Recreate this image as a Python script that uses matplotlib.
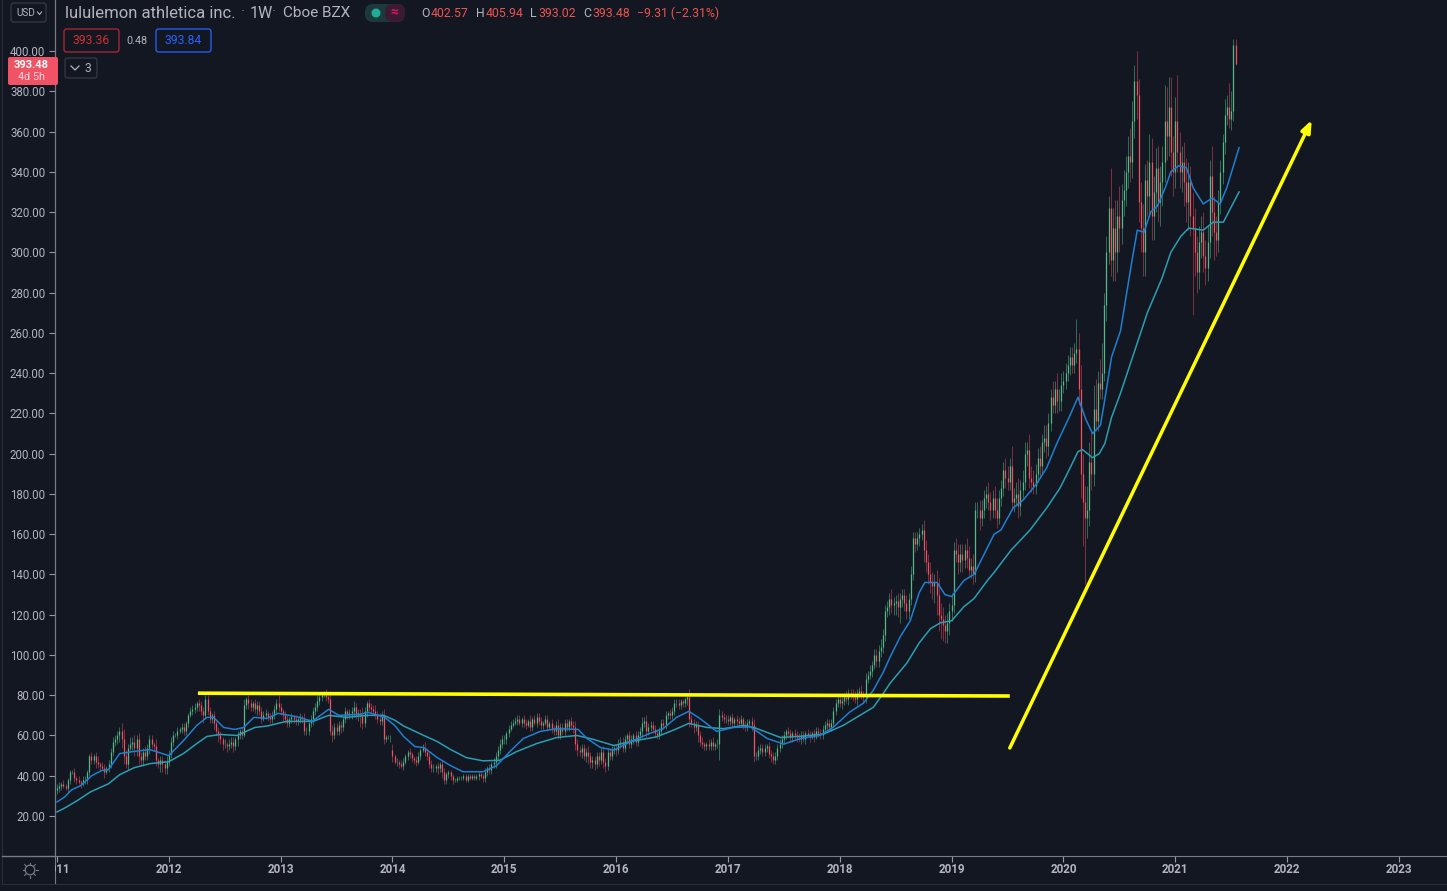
import matplotlib
matplotlib.use("Agg")
import matplotlib.pyplot as plt
import numpy as np
from matplotlib.patches import FancyBboxPatch, Circle

plt.rcParams["font.family"] = ["Roboto", "DejaVu Sans"]

BG = "#131722"
TXT = "#b2b5be"
UP, UP_WICK = "#53b987", "#33735c"
DOWN, DOWN_WICK = "#f0525f", "#8a3145"
BLUE, TEAL = "#1f7fd0", "#2a9fb2"
YELLOW = "#ffff00"

# weekly closes, one list per year
close_2011 = [34,35,36,35,34,38,42,42,39,38,37,36,38,
              38,42,50,48,50,47,46,45,44,42,44,46,52,
              57,58,60,62,58,50,46,54,56,57,54,58,50,
              48,52,50,54,58,56,55,48,46,48,46,44,47]
close_2012 = [51,57,60,60,62,63,64,62,66,70,72,73,74,
              76,75,72,70,78,72,68,70,66,62,60,58,56,
              56,55,56,57,55,58,60,62,60,75,78,76,74,
              76,73,75,72,68,70,71,69,68,70,73,76,74]
close_2013 = [72,70,68,66,68,69,68,67,68,69,68,62,62,
              66,68,72,74,77,79,80,80,79,78,62,60,64,
              62,65,64,68,72,70,71,72,74,70,71,70,66,
              72,76,74,73,72,70,68,67,70,58,59,59,59]
close_2014 = [50,47,47,46,45,47,50,52,51,49,48,47,50,
              53,54,52,50,46,44,44,45,44,46,42,38,41,
              42,40,38,38,39,39,39,40,38,40,39,40,39,
              40,41,40,39,42,44,43,46,47,50,53,56,58]
close_2015 = [58,61,63,65,66,67,68,66,68,66,65,67,64,
              68,66,69,67,65,66,68,64,66,63,62,65,60,
              64,62,66,64,67,65,64,56,53,52,54,50,52,
              50,47,48,46,50,48,52,47,45,52,50,53,54]
close_2016 = [53,56,57,54,58,60,56,58,60,57,60,62,66,
              67,62,64,65,63,61,60,62,66,65,70,71,70,
              72,76,76,75,77,76,78,79,68,66,64,65,60,
              57,56,55,56,55,57,55,56,56,70,69,68,68]
close_2017 = [67,69,66,68,67,66,68,65,64,66,67,65,50,
              50,53,54,52,54,55,51,50,48,50,54,56,58,
              60,62,61,59,61,60,59,58,60,58,61,60,59,
              61,59,62,61,60,63,65,66,64,66,72,76,78]
close_2018 = [76,77,79,78,81,80,79,78,81,82,80,79,88,
              90,92,95,100,97,102,104,110,122,124,128,125,126,
              127,124,128,130,126,122,128,140,158,155,158,160,162,
              152,146,140,136,134,136,130,120,118,115,112,116,122]
close_2019 = [125,152,150,146,150,147,152,148,142,144,140,172,172,
              168,172,178,180,176,172,178,172,168,178,183,192,188,
              186,194,176,178,180,174,182,186,200,202,188,186,184,
              190,198,194,206,208,204,215,228,224,232,226,226,234]
close_2020 = [236,240,244,248,244,250,252,232,190,176,168,172,196,
              190,222,216,235,232,240,274,300,322,296,312,300,318,
              312,326,331,340,348,345,365,385,378,325,312,300,336,
              328,345,318,330,342,325,335,345,365,358,372,350,340]
close_2021 = [365,350,340,345,335,325,335,318,312,300,290,305,310,
              298,292,305,338,320,310,306,325,340,355,368,372,366,370,
              402.79,393.48]

# distance of the wick above the body
upper_2011 = [2,2,1,2,1,1,1,1,2,1,2,1,2,
              2,1,1,2,1,2,3,1,2,2,1,2,2,
              2,2,2,2,4,5,3,2,3,2,3,2,3,
              2,2,3,2,2,2,1,3,1,2,2,2,3]
upper_2012 = [2,2,2,1,2,1,2,2,1,1,2,2,2,
              1,2,2,2,2,2,2,1,2,1,2,2,1,
              2,1,2,2,2,1,2,1,2,3,1,2,2,
              1,2,2,2,2,2,2,1,2,2,2,2,4]
upper_2013 = [2,1,2,2,1,2,1,2,1,2,1,3,2,
              2,2,2,2,3,2,1,2,3,2,4,3,2,
              2,2,2,1,2,1,2,2,3,2,2,2,4,
              2,1,2,2,2,3,2,3,2,3,1,1,1]
upper_2014 = [3,1,2,1,2,2,1,1,2,1,1,2,2,
              1,2,3,2,2,2,2,1,2,1,2,2,1,
              1,1,1,1,1,1,1,1,1,1,1,1,1,
              1,1,1,1,2,1,2,1,2,2,2,2,2]
upper_2015 = [2,1,2,2,2,2,2,2,1,2,2,1,3,
              1,2,2,2,2,1,2,2,1,2,2,2,3,
              2,2,2,2,1,2,2,3,2,2,2,2,2,
              3,2,2,2,2,2,2,3,2,2,2,2,2]
upper_2016 = [2,2,2,2,2,1,2,2,1,2,2,2,3,
              2,3,2,2,2,2,2,2,2,2,2,1,2,
              2,2,2,2,1,1,1,2,4,2,2,2,2,
              2,2,1,1,2,1,2,1,2,3,2,2,2]
upper_2017 = [2,1,2,1,2,2,2,1,2,2,1,2,3,
              2,2,2,2,2,1,2,2,2,2,2,2,2,
              2,1,2,2,1,2,2,2,2,2,1,2,2,
              1,2,2,2,2,2,2,2,2,2,2,2,2]
upper_2018 = [2,2,2,3,2,2,3,3,2,2,3,2,3,
              2,3,2,3,3,3,4,3,3,3,3,5,3,
              3,4,3,3,3,4,3,4,3,3,3,3,3,
              5,5,4,6,5,4,6,8,6,6,5,5,4]
upper_2019 = [6,4,6,5,5,5,3,6,6,4,6,4,4,
              5,5,4,4,6,5,4,6,6,4,4,4,6,
              6,4,10,5,6,8,5,6,6,4,8,6,6,
              5,5,6,4,6,6,5,4,8,4,8,6,6]
upper_2020 = [5,5,5,5,5,5,15,8,12,10,8,12,10,
              15,12,15,6,12,15,6,8,6,20,10,14,8,
              15,8,10,8,10,14,10,8,15,8,10,12,8,
              10,14,12,8,10,11,8,8,18,17,15,15,8]
upper_2021 = [12,23,10,8,10,12,10,8,12,10,8,8,8,
              10,8,8,8,15,8,8,6,6,4,8,6,12,10,
              3.0,3.15]

# distance of the wick below the body
lower_2011 = [2,2,2,1,1,2,2,1,2,2,1,2,1,
              2,2,2,2,2,3,2,2,1,3,1,2,2,
              2,2,2,3,4,4,2,3,2,3,4,4,4,
              3,3,2,2,3,2,2,3,2,4,4,3,3]
lower_2012 = [2,2,2,1,2,1,2,2,2,2,1,2,2,
              2,3,2,4,2,2,2,2,3,2,3,2,3,
              2,3,2,2,3,2,3,2,2,1,2,3,2,
              2,2,3,2,2,1,2,2,2,2,2,2,2]
lower_2013 = [2,3,2,2,2,2,2,2,2,2,2,2,2,
              2,2,3,2,2,2,2,1,2,2,2,3,2,
              2,2,3,2,2,2,2,3,3,2,3,6,3,
              2,3,2,2,2,2,2,2,2,2,1,1,2]
lower_2014 = [3,1,2,2,1,2,1,2,2,2,2,2,1,
              2,1,2,2,2,2,2,2,3,2,3,2,2,
              2,2,2,1,1,1,1,1,1,1,1,1,1,
              1,2,1,2,2,2,2,2,2,3,2,2,2]
lower_2015 = [2,2,2,1,1,1,2,1,2,2,2,1,2,
              2,1,2,2,2,2,1,2,1,2,2,2,2,
              2,2,2,2,2,2,3,3,3,2,3,2,3,
              4,3,3,3,2,3,2,3,3,2,2,2,2]
lower_2016 = [3,2,2,2,2,2,2,2,2,2,2,2,3,
              2,3,2,2,2,2,2,2,2,2,2,2,2,
              2,2,2,2,2,2,2,3,4,2,3,2,3,
              2,2,2,2,2,2,2,2,2,8,2,2,2]
lower_2017 = [2,2,2,2,2,2,1,2,2,2,2,3,3,
              2,2,2,2,2,2,2,3,2,2,2,2,2,
              2,2,2,2,2,2,2,1,2,1,2,1,2,
              1,2,1,2,2,2,2,2,2,2,2,2,2]
lower_2018 = [2,3,2,2,3,2,2,2,3,2,2,3,3,
              2,2,3,2,3,3,3,3,3,3,4,4,5,
              6,5,8,4,4,4,4,3,3,4,3,4,3,
              6,5,5,5,6,8,10,8,10,8,6,6,6]
lower_2019 = [5,4,4,6,5,6,4,5,4,4,5,4,4,
              6,4,4,5,4,5,4,4,5,3,4,4,5,
              4,4,4,5,4,6,5,4,4,6,5,5,4,
              4,4,6,4,5,6,5,4,4,4,6,5,5]
lower_2020 = [4,4,4,5,4,4,5,8,12,22,33,10,8,
              8,6,5,5,5,5,4,8,6,8,10,14,10,
              12,8,8,8,8,10,8,8,12,10,12,12,12,
              10,10,12,12,10,10,12,12,10,12,10,12,12]
lower_2021 = [8,10,8,10,12,10,14,10,43,12,10,8,8,
              8,8,6,8,12,14,8,6,6,6,6,5,4,5,
              5.0,0.46]

close_by_year = [close_2011, close_2012, close_2013, close_2014, close_2015, close_2016,
                 close_2017, close_2018, close_2019, close_2020, close_2021]
upper_by_year = [upper_2011, upper_2012, upper_2013, upper_2014, upper_2015, upper_2016,
                 upper_2017, upper_2018, upper_2019, upper_2020, upper_2021]
lower_by_year = [lower_2011, lower_2012, lower_2013, lower_2014, lower_2015, lower_2016,
                 lower_2017, lower_2018, lower_2019, lower_2020, lower_2021]

# moving averages, points
ma_blue_x = [2011.0,2011.07,2011.13,2011.21,2011.31,2011.40,2011.46,2011.56,2011.68,2011.83,2012.0,
             2012.13,2012.25,2012.34,2012.40,2012.49,2012.59,2012.67,2012.76,2012.88,2012.98,2013.17,
             2013.28,2013.43,2013.52,2013.71,2013.78,2013.93,2014.02,2014.10,2014.20,2014.28,2014.40,
             2014.52,2014.63,2014.81,2014.93,2015.05,2015.17,2015.32,2015.47,2015.66,2015.74,2015.86,
             2015.98,2016.13,2016.30,2016.42,2016.54,2016.65,2016.75,2016.90,2017.05,2017.20,2017.35,
             2017.50,2017.65,2017.82,2017.94,2018.09,2018.21,2018.30,2018.39,2018.45,2018.54,2018.63,
             2018.71,2018.76,2018.87,2018.94,2019.0,2019.11,2019.20,2019.29,2019.38,2019.44,2019.55,
             2019.64,2019.76,2019.85,2019.94,2020.05,2020.13,2020.20,2020.26,2020.33,2020.37,2020.43,
             2020.51,2020.61,2020.66,2020.72,2020.78,2020.84,2020.91,2020.96,2021.03,2021.10,2021.16,
             2021.25,2021.33,2021.40,2021.46,2021.57]
ma_blue = [27,29.5,33,35,40,42.6,43,51,52,53,50,
           57.4,65,69,69,64,63,64,69,68.5,71,69,
           67,73,70,70.5,71.5,69,65,59.5,54.5,54,49,
           45,42,42,45,52,58.5,62,63.4,63,58.5,54,
           52.7,57,61,63.4,69,72,68.4,62,64,64.3,58.5,
           55.7,58.5,60,64,71.7,76,82.5,91.6,99,109,117,
           131,136,136,130,129,137,140,150,160,162,173,
           177,185,193,205,218,228,217,210,214,227,248,
           261,295,311,310,320,323,332,340,343,342,332,
           324,327,324,332,352]
ma_teal_x = [2011.0,2011.07,2011.18,2011.30,2011.46,2011.56,2011.69,2011.83,2012.0,2012.13,2012.25,
             2012.34,2012.46,2012.61,2012.77,2012.88,2013.05,2013.29,2013.43,2013.59,2013.77,2013.92,
             2014.02,2014.10,2014.28,2014.40,2014.52,2014.66,2014.81,2014.96,2015.11,2015.29,2015.47,
             2015.65,2015.80,2015.98,2016.13,2016.36,2016.51,2016.65,2016.81,2016.96,2017.14,2017.23,
             2017.47,2017.65,2017.85,2018.03,2018.15,2018.30,2018.39,2018.45,2018.60,2018.71,2018.81,
             2018.90,2019.0,2019.11,2019.20,2019.32,2019.38,2019.53,2019.70,2019.85,2019.97,2020.06,
             2020.13,2020.17,2020.26,2020.32,2020.37,2020.43,2020.51,2020.75,2020.88,2020.96,2021.05,
             2021.12,2021.25,2021.34,2021.43,2021.57]
ma_teal = [22,24,27.6,32,36,40.5,44,46,47,51,56,
           59.5,60.5,60,64,64.7,67,67,70,69,70,70,
           67.6,64.7,60,57,53,49,47.4,47.7,52,56,59,
           60,58,55,57,59.3,62.6,66,64,63.4,65,64,
           59,59.6,60.6,65,69,74,81,86,96,106,113,
           116,117,124,128,137,141,152,162,173,183,193,
           201,202,198,200,205,218,230,270,287,300,308,
           312,311,315,315,330]

year_ticks = [2011,2012,2013,2014,2015,2016,2017,2018,2019,2020,2021,2022,2023]
price_ticks = [20,40,60,80,100,120,140,160,180,200,220,240,260,280,300,320,340,360,380,400]

# support line and trend arrow, as year / price anchors
support_x = [2012.26, 2019.52]
support_y = [81.0, 79.6]
trend_x = [2019.52, 2022.22]
trend_y = [53.8, 365.7]

# build the weekly bars
x_list = []
for year, vals in zip(year_ticks, close_by_year):
    n = 52 if year == 2021 else len(vals)
    x_list.extend(year + i / n for i in range(len(vals)))
dates = np.array(x_list)
closes = np.concatenate(close_by_year).astype(float)
uppers = np.concatenate(upper_by_year).astype(float)
lowers = np.concatenate(lower_by_year).astype(float)
opens = np.r_[33.0, closes[:-1]]
opens[len(sum(close_by_year[:3], []))] = 53.0  # gap at the start of 2014
body_hi = np.maximum(opens, closes)
body_lo = np.minimum(opens, closes)
is_up = closes >= opens

W, H = 1447, 891
fig = plt.figure(figsize=(W / 100, H / 100), dpi=100, facecolor=BG)

XL = (2011 - 2 / 111.83, 2011 + (1447 - 57) / 111.83)
ax = fig.add_axes([55 / W, (H - 856) / H, (W - 55) / W, 856 / H], facecolor=BG)
ax.set_xlim(XL)
ax.set_ylim(20 - 40 / 2.013, 400 + 51 / 2.013)

wick_colors = [UP_WICK if u else DOWN_WICK for u in is_up]
body_colors = [UP if u else DOWN for u in is_up]
ax.vlines(dates, body_lo - lowers, body_hi + uppers, colors=wick_colors, linewidth=0.65, zorder=2)
ax.vlines(dates, body_lo, body_hi, colors=body_colors, linewidth=0.9, zorder=3)

ax.plot(ma_teal_x, ma_teal, color=TEAL, linewidth=1.1, solid_joinstyle="round", zorder=4)
ax.plot(ma_blue_x, ma_blue, color=BLUE, linewidth=1.1, solid_joinstyle="round", zorder=5)

ax.plot(support_x, support_y, color=YELLOW, linewidth=2.6, solid_capstyle="butt", zorder=6)
ax.annotate("", xy=(trend_x[1], trend_y[1]), xytext=(trend_x[0], trend_y[0]),
            arrowprops=dict(arrowstyle="-|>,head_length=0.7,head_width=0.28", color=YELLOW,
                            linewidth=2.5, shrinkA=0, shrinkB=0), zorder=6)

ax.set_yticks(price_ticks)
ax.set_yticklabels([f"{p:.2f}" for p in price_ticks], fontsize=8.3, color=TXT)
ax.tick_params(axis="y", length=4, width=0.8, color="#9598a1", pad=3)
ax.set_xticks([])
for side in ["top", "right", "bottom"]:
    ax.spines[side].set_visible(False)
ax.spines["left"].set_color("#787b86")
ax.spines["left"].set_linewidth(0.9)

# time scale strip
ax_time = fig.add_axes([55 / W, 0, (W - 55) / W, (H - 856) / H], facecolor=BG)
ax_time.set_xlim(XL)
ax_time.set_ylim(35, 0)
ax_time.set_yticks([])
ax_time.set_xticks(year_ticks)
ax_time.set_xticklabels([])
ax_time.tick_params(axis="x", direction="in", top=True, bottom=False, length=4, width=0.8, color="#9598a1")
for side in ["right", "bottom"]:
    ax_time.spines[side].set_visible(False)
ax_time.spines["top"].set_color("#787b86")
ax_time.spines["left"].set_color("#787b86")
ax_time.spines["left"].set_bounds(28, 0)
for yr in year_ticks:
    ax_time.text(yr, 13.5, str(yr), ha="center", va="center", fontsize=8.4, fontweight="bold",
                 color=TXT, clip_on=True)

# header and toolbar elements, in pixel coordinates
ui = fig.add_axes([0, 0, 1, 1], facecolor="none")
ui.set_xlim(0, W)
ui.set_ylim(H, 0)
ui.axis("off")


def box(x0, y0, x1, y1, edge, face="none", r=2.5):
    ui.add_patch(FancyBboxPatch((x0 + r, y0 + r), x1 - x0 - 2 * r, y1 - y0 - 2 * r,
                                boxstyle=f"round,pad={r}", edgecolor=edge, facecolor=face, linewidth=0.9))


ui.plot([2, W], [884, 884], color="#2a2e39", linewidth=0.8)
ui.plot([2, 2], [0, 884], color="#2a2e39", linewidth=0.8)
ui.plot([2, 55], [856, 856], color="#787b86", linewidth=1.0)

box(11, 3, 46, 22, "#363a45")
ui.text(16, 13, "USD", fontsize=7.2, color=TXT, va="center")
ui.plot([37.5, 39.5, 41.5], [12, 14.5, 12], color=TXT, linewidth=0.8)

ui.text(65, 13, "lululemon athletica inc.", fontsize=12, color=TXT, va="center")
ui.text(241, 13, "·", fontsize=11, color="#787b86", va="center")
ui.text(250, 13, "1W", fontsize=11.6, color=TXT, va="center")
ui.text(272, 13, "·", fontsize=11, color="#787b86", va="center")
ui.text(283, 13, "Cboe BZX", fontsize=11, color=TXT, va="center")

box(365, 4, 405, 22, "none", "#1c3a3e", r=8)
box(385, 4, 405, 22, "none", "#3d1a33", r=8)
ui.add_patch(Circle((376, 13), 3.8, color="#22ab94"))
ui.text(394, 13, "≈", fontsize=10, color="#d81b60", ha="center", va="center", fontweight="bold")

RED_TXT = "#ef5350"
ohlc = [(421, "O", TXT), (431, "402.57", RED_TXT), (476, "H", TXT), (486, "405.94", RED_TXT),
        (530, "L", TXT), (538, "393.02", RED_TXT), (583, "C", TXT), (592, "393.48", RED_TXT),
        (637, "−9.31 (−2.31%)", RED_TXT)]
for px, s, col in ohlc:
    ui.text(px, 13.5, s, fontsize=8.8, color=col, va="center")

box(64, 29, 119, 52, "#b22833")
ui.text(91.5, 41, "393.36", fontsize=8.7, color="#d32f2f", ha="center", va="center")
ui.text(137, 40.5, "0.48", fontsize=7.8, color=TXT, ha="center", va="center")
box(156, 29, 211, 52, "#2962ff")
ui.text(183.5, 41, "393.84", fontsize=8.7, color="#2962ff", ha="center", va="center")

box(65, 58, 97, 78, "#363a45")
ui.plot([71, 75, 79], [66, 70, 66], color=TXT, linewidth=0.9)
ui.text(88, 68, "3", fontsize=8.7, color=TXT, ha="center", va="center")

ui.add_patch(FancyBboxPatch((10, 59), 46, 24, boxstyle="round,pad=2", facecolor="#ef5365", edgecolor="none"))
ui.text(31.5, 64.5, "393.48", fontsize=8.0, color="white", ha="center", va="center", fontweight="bold")
ui.text(31.5, 77, "4d 5h", fontsize=7.8, color="#ffd5d9", ha="center", va="center")

# brightness icon
ui.add_patch(Circle((30, 870), 4.8, facecolor="none", edgecolor="#787b86", linewidth=0.9))
for ang in np.deg2rad([0, 45, 90, 135, 180, 225, 270, 315]):
    ui.plot([30 + 5.5 * np.cos(ang), 30 + 7.5 * np.cos(ang)],
            [870 + 5.5 * np.sin(ang), 870 + 7.5 * np.sin(ang)], color="#787b86", linewidth=0.8)

fig.savefig("out.png", dpi=100, facecolor=BG)
